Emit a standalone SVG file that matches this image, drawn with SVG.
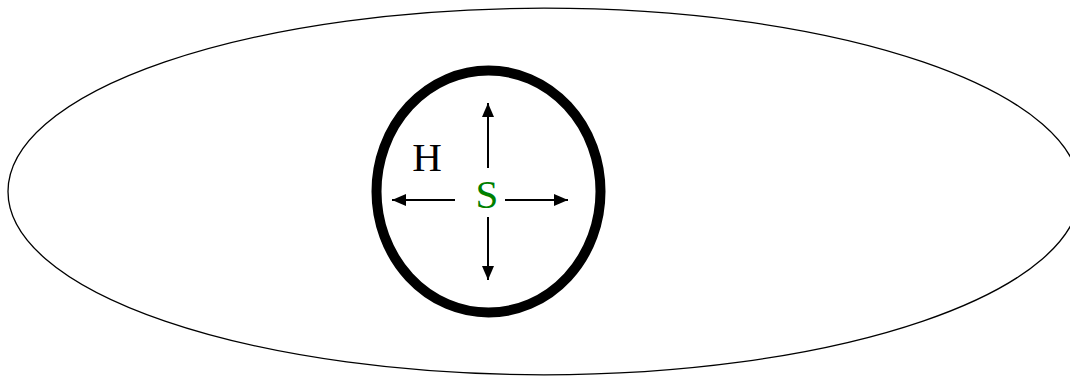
<svg xmlns="http://www.w3.org/2000/svg" width="1070" height="376" viewBox="0 0 1070 376">
<style>
.lbl{font-family:"Liberation Serif","Times New Roman",serif;font-size:41px;text-anchor:middle}
.arr{stroke:#000;stroke-width:2;fill:none;marker-end:url(#ah)}
</style>
<defs>
<marker id="ah" viewBox="0 0 14 12" refX="14" refY="6" markerWidth="14" markerHeight="12" markerUnits="userSpaceOnUse" orient="auto">
<path d="M0,0 L14,6 L0,12 Z" fill="#000"/>
</marker>
</defs>
<rect width="1070" height="376" fill="#fff"/>
<g id="outer">
<ellipse cx="544" cy="191.5" rx="536" ry="183.3" fill="none" stroke="#000" stroke-width="1.3"/>
</g>
<g id="inner">
<ellipse cx="488.5" cy="191.5" rx="112" ry="121" fill="none" stroke="#000" stroke-width="10"/>
</g>
<g id="connectors">
<line class="arr" x1="488" y1="168" x2="488" y2="103"/>
<line class="arr" x1="488" y1="217" x2="488" y2="280"/>
<line class="arr" x1="455" y1="200" x2="392" y2="200"/>
<line class="arr" x1="505" y1="200" x2="568" y2="200"/>
</g>
<g id="label-H"><text class="lbl" x="427" y="171" fill="#000">H</text></g>
<g id="label-S"><text class="lbl" x="487" y="208" fill="#008000">S</text></g>
</svg>
